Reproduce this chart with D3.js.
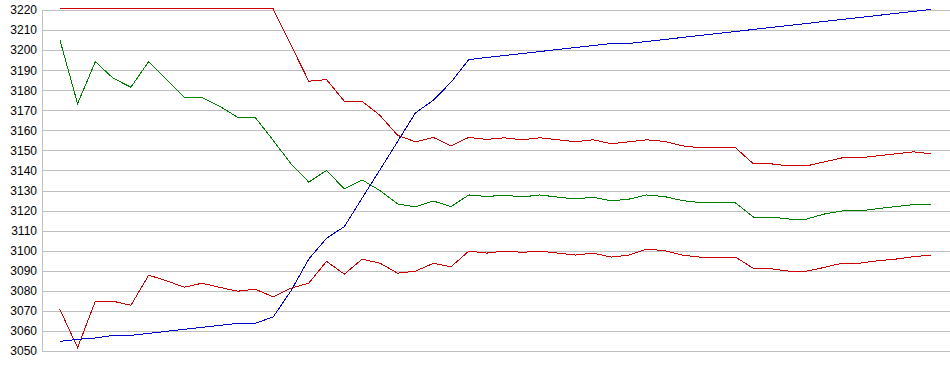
<!DOCTYPE html>
<html>
<head>
<meta charset="utf-8">
<script src="https://cdn.jsdelivr.net/npm/d3@7"></script>
<style>
  html, body { margin: 0; padding: 0; background: #fff; }
  svg { display: block; }
</style>
</head>
<body>
<div id="chart"></div>
<script>
// ---- data ----
const yTicks = [3050, 3060, 3070, 3080, 3090, 3100, 3110, 3120, 3130, 3140, 3150, 3160, 3170, 3180, 3190, 3200, 3210, 3220];

const upperRed = [3220.5, 3220.5, 3220.5, 3220.5, 3220.5, 3220.5, 3220.5, 3220.5, 3220.5, 3220.5,
  3220.5, 3220.5, 3220.5, 3202.5, 3184.5, 3185.3, 3174.5, 3174.5, 3167.5, 3157.5,
  3154.3, 3156.5, 3152.3, 3156.5, 3155.5, 3156.3, 3155.3, 3156.3, 3155.3, 3154.3,
  3155.3, 3153.3, 3154.3, 3155.3, 3154.5, 3152.3, 3151.3, 3151.3, 3151.3, 3143.3,
  3143.3, 3142.3, 3142.3, 3144.3, 3146.3, 3146.3, 3147.3, 3148.3, 3149.3, 3148.3];

const green = [3205.3, 3173.3, 3194.2, 3186, 3181.5, 3194.3, 3185.4, 3176.5, 3176.3, 3172,
  3166.5, 3166.3, 3155, 3143.3, 3134.2, 3140, 3130.8, 3135.3, 3130, 3123.3,
  3121.8, 3124.8, 3122, 3127.8, 3127, 3127.7, 3126.8, 3127.8, 3126.7, 3125.8,
  3126.7, 3124.8, 3125.7, 3127.8, 3127, 3125, 3124, 3123.8, 3123.8, 3116.8,
  3116.8, 3115.8, 3115.8, 3118.3, 3119.8, 3119.8, 3121, 3122, 3123, 3123];

const lowerRed = [3070.8, 3051.7, 3074.8, 3074.8, 3072.8, 3087.8, 3085, 3081.8, 3083.8, 3081.7,
  3079.8, 3080.8, 3077, 3081.3, 3083.8, 3094.7, 3088.3, 3095.8, 3093.8, 3088.8,
  3089.8, 3093.7, 3092, 3099.8, 3098.8, 3099.8, 3099.2, 3099.8, 3098.8, 3097.8,
  3098.8, 3096.8, 3097.8, 3100.8, 3100, 3097.8, 3096.8, 3096.8, 3096.8, 3091.2,
  3091, 3089.8, 3089.8, 3091.7, 3093.8, 3093.8, 3095, 3095.8, 3097, 3097.8];

const blue = [3054.8, 3055.8, 3056.5, 3057.8, 3057.8, 3058.8, 3059.8, 3060.8, 3061.8, 3062.8,
  3063.8, 3063.8, 3067, 3080, 3095.8, 3106.2, 3112, 3126.2, 3140.3, 3154.5,
  3168.7, 3175, 3184, 3195.3, 3196.3, 3197.3, 3198.3, 3199.3, 3200.3, 3201.3,
  3202.3, 3203.3, 3203.3, 3204.3, 3205.3, 3206.3, 3207.3, 3208.3, 3209.3, 3210.3,
  3211.3, 3212.3, 3213.3, 3214.3, 3215.3, 3216.3, 3217.3, 3218.3, 3219.3, 3220.3];

const seriesList = [
  { name: "upper", values: upperRed, color: "#cc0000" },
  { name: "green", values: green, color: "#008000" },
  { name: "lower", values: lowerRed, color: "#cc0000" },
  { name: "blue", values: blue, color: "#0000cc" }
];

// ---- layout ----
const W = 950, H = 375;
const plotLeft = 42, plotRight = 949, plotTop = 10, plotBottom = 351;

const svg = d3.select("#chart").append("svg")
  .attr("width", W).attr("height", H);

const x = d3.scaleLinear().domain([-1, upperRed.length]).range([plotLeft, plotRight]);
const y = d3.scaleLinear().domain([3050, 3220]).range([plotBottom, plotTop]);

// grid
const grid = svg.append("g").attr("shape-rendering", "crispEdges");
grid.selectAll("line.h").data(yTicks).enter().append("line")
  .attr("class", "h")
  .attr("x1", plotLeft).attr("x2", W)
  .attr("y1", d => Math.round(y(d)) + 0.5).attr("y2", d => Math.round(y(d)) + 0.5)
  .attr("stroke", "#c0c0c0").attr("stroke-width", 1);
grid.append("line")
  .attr("x1", plotLeft + 0.5).attr("x2", plotLeft + 0.5)
  .attr("y1", Math.round(y(3220)) + 0.5).attr("y2", Math.round(y(3050)) + 0.5)
  .attr("stroke", "#c0c0c0");

// y axis labels
const yAxis = d3.axisLeft(y).tickValues(yTicks).tickSize(0).tickPadding(0).tickFormat(d3.format("d"));
const ag = svg.append("g").attr("transform", `translate(37,0)`).call(yAxis);
ag.select(".domain").remove();
ag.selectAll("text")
  .attr("x", 0)
  .attr("font-family", "'Liberation Sans', Arial, sans-serif")
  .attr("font-size", "12px")
  .attr("fill", "#000");

// lines
const lineGen = d3.line().x((d, i) => x(i)).y(d => y(d));
svg.append("g").selectAll("path").data(seriesList).enter().append("path")
  .attr("d", s => lineGen(s.values))
  .attr("fill", "none")
  .attr("stroke", s => s.color)
  .attr("stroke-width", 1)
  .attr("shape-rendering", "crispEdges");
</script>
</body>
</html>
